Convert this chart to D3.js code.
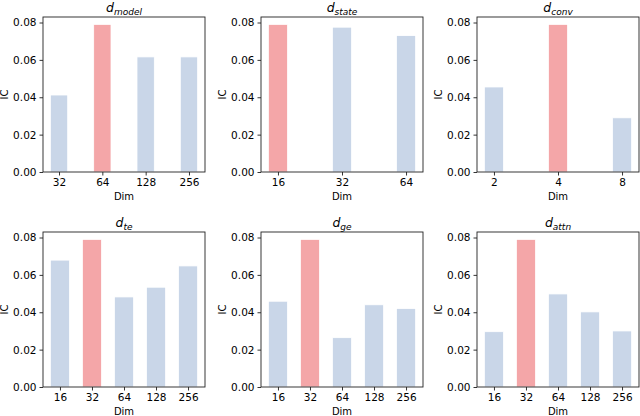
<!DOCTYPE html>
<html>
<head>
<meta charset="utf-8">
<script src="https://cdn.jsdelivr.net/npm/d3@7"></script>
<style>
  body { margin: 0; background: #fff; }
  svg { font-family: 'DejaVu Sans', sans-serif; }
</style>
</head>
<body>
<div id="graf"></div>
<script>
// datos de cada panel
const subNames = ['model', 'state', 'conv', 'te', 'ge', 'attn']
const dimsModel = ['32', '64', '128', '256']
const dimsState = ['16', '32', '64']
const dimsConv  = ['2', '4', '8']
const dimsTe    = ['16', '32', '64', '128', '256']
const dimsGe    = ['16', '32', '64', '128', '256']
const dimsAttn  = ['16', '32', '64', '128', '256']

const icModel = [0.0412, 0.0790, 0.0616, 0.0616]
const icState = [0.0790, 0.0775, 0.0730]
const icConv  = [0.0455, 0.0790, 0.0290]
const icTe    = [0.0679, 0.0790, 0.0482, 0.0534, 0.0648]
const icGe    = [0.0459, 0.0790, 0.0264, 0.0440, 0.0420]
const icAttn  = [0.0296, 0.0790, 0.0498, 0.0402, 0.0300]

const yTicks = [0, 0.02, 0.04, 0.06, 0.08]

const allDims = [dimsModel, dimsState, dimsConv, dimsTe, dimsGe, dimsAttn]
const allIC   = [icModel, icState, icConv, icTe, icGe, icAttn]

// estilo
const barWidths = [0.4, 0.3, 0.3, 0.6, 0.6, 0.6]
const colBlue = '#c9d6e8'
const colRed  = '#f4a6a8'

const ancho = 640, alto = 416
const colLeft = [43, 261, 477]
const rowTop  = [17, 232]
const pw = 162, ph = 155

const svg = d3.select('#graf').append('svg')
  .attr('width', ancho).attr('height', alto)

const yMax = d3.max(allIC.flat()) * 1.05

allIC.forEach((vals, i) => {
  const dims = allDims[i]
  const w = barWidths[i]
  const n = dims.length
  const lo = -w / 2, hi = n - 1 + w / 2
  const m = (hi - lo) * 0.05

  const g = svg.append('g')
    .attr('transform', `translate(${colLeft[i % 3]}, ${rowTop[Math.floor(i / 3)]})`)

  const x = d3.scaleLinear().domain([lo - m, hi + m]).range([0, pw])
  const y = d3.scaleLinear().domain([0, yMax]).range([ph, 0])
  const best = d3.max(vals)

  g.selectAll('rect.bar')
    .data(vals)
    .enter()
    .append('rect')
      .attr('class', 'bar')
      .attr('x', (d, k) => x(k - w / 2))
      .attr('width', x(w) - x(0))
      .attr('y', d => y(d))
      .attr('height', d => ph - y(d))
      .attr('fill', d => d === best ? colRed : colBlue)
      .attr('stroke', '#fff')
      .attr('stroke-width', 0.8)

  // ejes
  const xAxis = d3.axisBottom(x)
    .tickValues(d3.range(n))
    .tickFormat(k => dims[k])
    .tickSize(3.5).tickPadding(3)
  const yAxis = d3.axisLeft(y)
    .tickValues(yTicks)
    .tickFormat(d3.format('.2f'))
    .tickSize(3.5).tickPadding(3)

  const gx = g.append('g').attr('transform', `translate(0, ${ph})`).call(xAxis)
  const gy = g.append('g').call(yAxis)
  ;[gx, gy].forEach(a => {
    a.select('.domain').remove()
    a.selectAll('text').attr('font-size', 10.5).attr('fill', '#000')
      .attr('font-family', "'DejaVu Sans', sans-serif")
    a.selectAll('line').attr('stroke', '#000').attr('stroke-width', 0.8)
  })

  // marco
  g.append('rect')
    .attr('width', pw).attr('height', ph)
    .attr('fill', 'none').attr('stroke', '#222').attr('stroke-width', 0.9)

  // etiquetas
  g.append('text')
    .attr('x', pw / 2).attr('y', ph + 28)
    .attr('text-anchor', 'middle').attr('font-size', 10)
    .text('Dim')
  g.append('text')
    .attr('transform', `translate(${-35}, ${ph / 2}) rotate(-90)`)
    .attr('text-anchor', 'middle').attr('font-size', 10)
    .text('IC')

  const t = g.append('text')
    .attr('x', pw / 2).attr('y', -5)
    .attr('text-anchor', 'middle')
    .attr('font-style', 'italic')
  t.append('tspan').attr('font-size', 12.5).text('d')
  t.append('tspan').attr('font-size', 9).attr('dy', 3).text(subNames[i])
})
</script>
</body>
</html>
